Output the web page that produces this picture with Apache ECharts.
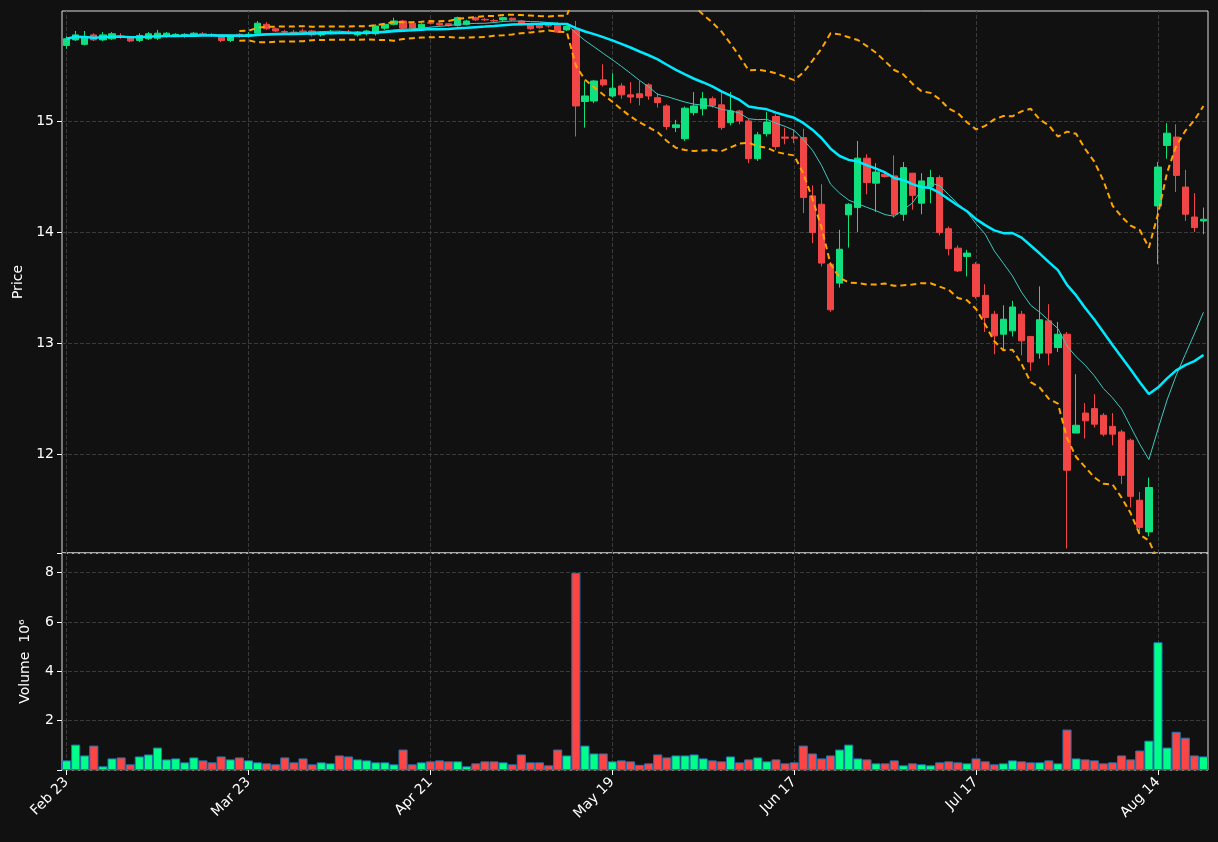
<!DOCTYPE html>
<html>
<head>
<meta charset="utf-8">
<script src="https://cdn.jsdelivr.net/npm/echarts@6/dist/echarts.min.js"></script>
<style>html,body{margin:0;background:#111111;}#chart{width:1218px;height:842px;}</style>
</head>
<body>
<div id="chart"></div>
<script>
var tickLabels = ['Feb 23', 'Mar 23', 'Apr 21', 'May 19', 'Jun 17', 'Jul 17', 'Aug 14'];
var priceTicks = [12, 13, 14, 15];
var opens = [15.68,15.73,15.69,15.775,15.73,15.74,15.765,15.75,15.725,15.74,15.745,15.765,15.77,15.765,15.77,15.785,15.78,15.77,15.725,15.78,
  15.765,15.79,15.87,15.83,15.805,15.80,15.81,15.81,15.775,15.795,15.80,15.80,15.775,15.785,15.785,15.835,15.87,15.90,15.88,15.835,
  15.885,15.88,15.875,15.86,15.87,15.93,15.915,15.905,15.91,15.925,15.90,15.87,15.865,15.86,15.865,15.82,15.82,15.175,15.18,15.37,
  15.225,15.315,15.235,15.245,15.325,15.21,15.135,14.94,14.84,15.075,15.11,15.20,15.145,14.985,15.09,15.00,14.66,14.885,15.04,14.855,
  14.855,14.85,14.325,14.25,13.71,13.54,14.155,14.22,14.665,14.44,14.52,14.505,14.16,14.53,14.26,14.41,14.49,14.03,13.855,13.78,
  13.71,13.43,13.26,13.08,13.11,13.26,13.06,12.91,13.20,12.96,13.08,12.19,12.37,12.41,12.35,12.25,12.20,12.125,11.585,11.30,
  14.235,14.78,14.855,14.405,14.135,14.10];
var closes = [15.74,15.775,15.75,15.73,15.775,15.785,15.76,15.72,15.77,15.785,15.79,15.79,15.78,15.78,15.79,15.78,15.775,15.725,15.76,15.765,
  15.78,15.88,15.83,15.81,15.80,15.795,15.805,15.775,15.80,15.80,15.795,15.795,15.80,15.81,15.855,15.87,15.90,15.835,15.835,15.87,
  15.88,15.865,15.86,15.93,15.90,15.91,15.91,15.90,15.93,15.91,15.87,15.83,15.84,15.855,15.80,15.85,15.135,15.225,15.36,15.325,
  15.295,15.235,15.215,15.21,15.225,15.165,14.95,14.965,15.115,15.135,15.20,15.14,14.94,15.09,15.00,14.66,14.875,14.99,14.77,14.845,
  14.845,14.31,13.995,13.72,13.30,13.845,14.25,14.665,14.445,14.54,14.50,14.16,14.58,14.33,14.46,14.49,13.995,13.85,13.65,13.81,
  13.42,13.23,13.065,13.215,13.325,13.02,12.83,13.21,12.91,13.08,11.855,12.26,12.30,12.27,12.18,12.18,11.81,11.62,11.34,11.70,
  14.585,14.89,14.51,14.16,14.04,14.115];
var highs = [15.76,15.81,15.81,15.79,15.80,15.80,15.79,15.76,15.79,15.80,15.82,15.80,15.79,15.79,15.80,15.80,15.79,15.78,15.77,15.79,
  15.80,15.90,15.89,15.84,15.82,15.82,15.83,15.82,15.81,15.82,15.81,15.82,15.81,15.82,15.87,15.88,15.93,15.91,15.89,15.88,
  15.91,15.89,15.88,15.94,15.91,15.94,15.93,15.92,15.94,15.93,15.91,15.88,15.87,15.87,15.89,15.86,15.90,15.36,15.37,15.51,
  15.43,15.34,15.35,15.36,15.34,15.25,15.15,15.01,15.13,15.26,15.26,15.22,15.26,15.26,15.10,15.02,14.90,15.08,15.06,14.94,
  14.92,14.93,14.42,14.43,13.73,14.02,14.26,14.82,14.70,14.62,14.55,14.69,14.63,14.53,14.53,14.56,14.51,14.05,13.88,13.84,
  13.73,13.53,13.29,13.34,13.38,13.29,13.06,13.51,13.35,13.19,13.10,12.72,12.46,12.54,12.37,12.37,12.22,12.14,11.66,11.79,
  14.63,14.98,14.97,14.56,14.35,14.22];
var lows = [15.65,15.72,15.68,15.72,15.72,15.73,15.74,15.71,15.71,15.73,15.73,15.75,15.76,15.75,15.76,15.77,15.76,15.71,15.71,15.75,
  15.75,15.78,15.82,15.80,15.79,15.78,15.79,15.76,15.76,15.78,15.78,15.78,15.76,15.77,15.77,15.82,15.86,15.82,15.82,15.82,
  15.87,15.85,15.85,15.85,15.86,15.90,15.90,15.89,15.90,15.90,15.86,15.82,15.83,15.84,15.79,15.81,14.86,14.94,15.16,15.31,
  15.21,15.20,15.16,15.14,15.19,15.12,14.92,14.90,14.82,15.05,15.05,15.12,14.92,14.96,14.97,14.62,14.64,14.86,14.74,14.79,
  14.80,14.17,13.90,13.69,13.28,13.50,13.86,14.00,14.34,14.18,14.49,14.13,14.10,14.20,14.16,14.26,13.97,13.79,13.64,13.60,
  13.40,13.10,12.90,12.94,13.06,12.89,12.75,12.86,12.80,12.92,11.15,12.19,12.14,12.24,12.16,12.08,11.73,11.52,11.28,11.26,
  13.71,14.66,14.36,14.10,14.00,13.98];
var volumes = [0.39,1.03,0.59,0.99,0.15,0.47,0.51,0.23,0.55,0.63,0.91,0.43,0.47,0.31,0.51,0.39,0.31,0.55,0.43,0.51,
  0.39,0.31,0.27,0.23,0.51,0.31,0.47,0.23,0.31,0.27,0.59,0.55,0.43,0.39,0.31,0.31,0.23,0.83,0.23,0.31,
  0.35,0.39,0.35,0.35,0.15,0.27,0.35,0.35,0.31,0.23,0.63,0.31,0.31,0.19,0.83,0.59,8.0,0.99,0.67,0.67,
  0.35,0.39,0.35,0.21,0.27,0.63,0.51,0.59,0.59,0.63,0.47,0.39,0.35,0.55,0.31,0.43,0.51,0.35,0.43,0.27,
  0.31,0.99,0.67,0.47,0.59,0.83,1.03,0.47,0.43,0.27,0.27,0.39,0.19,0.27,0.23,0.19,0.31,0.35,0.31,0.27,
  0.47,0.35,0.23,0.27,0.39,0.35,0.31,0.31,0.39,0.27,1.64,0.47,0.43,0.39,0.27,0.31,0.59,0.43,0.79,1.19,
  5.18,0.91,1.55,1.31,0.59,0.55];

var n = closes.length;
var cats = [];
for (var i = 0; i < n; i++) cats.push(String(i));

function movingAvg(win) {
  var out = [];
  for (var i = 0; i < n; i++) {
    var s = 0, k = 0;
    for (var j = Math.max(0, i - win + 1); j <= i; j++) { s += closes[j]; k++; }
    out.push(+(s / k).toFixed(4));
  }
  return out;
}
var ma20 = movingAvg(20);
var ma10 = movingAvg(10);
var upper = [], lower = [];
for (var i = 0; i < n; i++) {
  if (i < 19) { upper.push('-'); lower.push('-'); continue; }
  var m = 0;
  for (var j = i - 19; j <= i; j++) m += closes[j];
  m /= 20;
  var v = 0;
  for (var j = i - 19; j <= i; j++) v += (closes[j] - m) * (closes[j] - m);
  var sd = Math.sqrt(v / 19);
  upper.push(+(m + 2 * sd).toFixed(4));
  lower.push(+(m - 2 * sd).toFixed(4));
}

var upColor = '#10e07e', downColor = '#f24545';
var candles = [], volData = [];
for (var i = 0; i < n; i++) {
  candles.push([opens[i], closes[i], lows[i], highs[i]]);
  var up = closes[i] >= opens[i];
  volData.push({ value: volumes[i], itemStyle: { color: up ? '#00ff88' : '#ff4444' } });
}

// dashed grid lines at the labelled dates, drawn under the marks
var vLines = [];
for (var i = 0; i < n; i += 20) vLines.push({ xAxis: cats[i] });
var gridDash = { color: '#3a3a3a', type: 'dashed', width: 1 };
var vMark = { silent: true, z: 0, symbol: 'none', label: { show: false }, lineStyle: gridDash, data: vLines };
var hMarkPrice = { silent: true, z: 0, symbol: 'none', label: { show: false }, lineStyle: gridDash,
  data: priceTicks.map(function (t) { return { yAxis: t }; }).concat(vLines) };

var labelStyle = { color: '#ffffff', fontSize: 14, fontFamily: 'DejaVu Sans' };
var showEvery20 = function (idx) { return idx % 20 === 0; };

var myChart = echarts.init(document.getElementById('chart'));
var option = {
  backgroundColor: '#111111',
  animation: false,
  grid: [
    { left: 62, right: 10, top: 11, height: 542, show: true, borderColor: '#dddddd', borderWidth: 1 },
    { left: 62, right: 10, top: 553, height: 217, show: true, borderColor: '#dddddd', borderWidth: 1 }
  ],
  xAxis: [
    { type: 'category', data: cats, gridIndex: 0,
      axisLine: { show: false }, axisTick: { show: false }, axisLabel: { show: false }, splitLine: { show: false } },
    { type: 'category', data: cats, gridIndex: 1,
      axisLine: { show: false },
      axisTick: { show: true, alignWithLabel: true, interval: showEvery20, lineStyle: { color: '#ffffff' }, length: 5 },
      axisLabel: Object.assign({ rotate: 45, margin: 10, interval: showEvery20,
        formatter: function (val, idx) { return tickLabels[idx / 20] || ''; } }, labelStyle),
      splitLine: { show: false } }
  ],
  yAxis: [
    { type: 'value', gridIndex: 0, min: 11.11, max: 15.99,
      name: 'Price', nameLocation: 'middle', nameGap: 36, nameTextStyle: labelStyle,
      axisLine: { show: false },
      axisTick: { show: true, customValues: priceTicks, lineStyle: { color: '#fff' } },
      axisLabel: Object.assign({ customValues: priceTicks }, labelStyle),
      splitLine: { show: false } },
    { type: 'value', gridIndex: 1, min: 0, max: 8.8, interval: 2,
      name: 'Volume  10\u2076', nameLocation: 'middle', nameGap: 30, nameTextStyle: labelStyle,
      axisLine: { show: false }, axisTick: { show: true, lineStyle: { color: '#fff' } },
      axisLabel: Object.assign({ formatter: function (v) { return v === 0 || v > 8 ? '' : String(v); } }, labelStyle),
      splitLine: { show: true, lineStyle: { color: '#3a3a3a', type: 'dashed' } } }
  ],
  series: [
    { type: 'line', data: [], xAxisIndex: 0, yAxisIndex: 0, z: 0, markLine: hMarkPrice },
    { type: 'line', data: [], xAxisIndex: 1, yAxisIndex: 1, z: 0, markLine: vMark },
    { type: 'candlestick', xAxisIndex: 0, yAxisIndex: 0, data: candles, barWidth: '75%', z: 3,
      itemStyle: { color: upColor, color0: downColor, borderColor: upColor, borderColor0: downColor, borderWidth: 1 } },
    { type: 'line', name: 'BBU', data: upper, symbol: 'none', xAxisIndex: 0, yAxisIndex: 0, z: 4,
      lineStyle: { color: '#ffa500', width: 2, type: [6, 4] } },
    { type: 'line', name: 'BBL', data: lower, symbol: 'none', xAxisIndex: 0, yAxisIndex: 0, z: 4,
      lineStyle: { color: '#ffa500', width: 2, type: [6, 4] } },
    { type: 'line', name: 'MA10', data: ma10, symbol: 'none', xAxisIndex: 0, yAxisIndex: 0, z: 4,
      lineStyle: { color: '#3cc9bd', width: 1 } },
    { type: 'line', name: 'MA20', data: ma20, symbol: 'none', xAxisIndex: 0, yAxisIndex: 0, z: 4,
      lineStyle: { color: '#00eaff', width: 2.5 } },
    { type: 'bar', xAxisIndex: 1, yAxisIndex: 1, data: volData, barCategoryGap: '0%', z: 3,
      itemStyle: { borderColor: '#1f77b4', borderWidth: 1 } }
  ]
};
myChart.setOption(option);
</script>
</body>
</html>
